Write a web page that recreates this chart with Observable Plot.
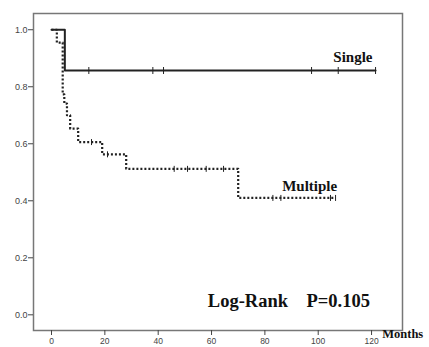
<!DOCTYPE html>
<html>
<head>
<meta charset="utf-8">
<script src="https://cdn.jsdelivr.net/npm/d3@7"></script>
<script src="https://cdn.jsdelivr.net/npm/@observablehq/plot@0.6"></script>
<style>
  html, body { margin: 0; padding: 0; background: #fff; }
  svg { display: block; }
</style>
</head>
<body>
<div id="chart"></div>
<script>
// Kaplan–Meier step data (months, survival proportion)
const singleTimes = [0, 5, 121.5];
const singleSurv  = [1, 0.857, 0.857];
const singleCensorTimes = [14, 38, 42, 97.5, 107.5, 121.5];
const singleCensorSurv  = [0.857, 0.857, 0.857, 0.857, 0.857, 0.857];

const multipleTimes = [0, 2, 4.2, 4.8, 5.8, 7, 10, 19, 28, 70, 106.5];
const multipleSurv  = [1, 0.955, 0.773, 0.741, 0.70, 0.653, 0.606, 0.563, 0.512, 0.41, 0.41];
const multipleCensorTimes = [15, 21, 46, 51, 58, 64.5, 83, 86, 104.6, 106.5];
const multipleCensorSurv  = [0.606, 0.563, 0.512, 0.512, 0.512, 0.512, 0.41, 0.41, 0.41, 0.41];

const xTicks = [0, 20, 40, 60, 80, 100, 120];
const yTicks = [0, 0.2, 0.4, 0.6, 0.8, 1.0];

const single = singleTimes.map((t, i) => ({t, s: singleSurv[i]}));
const multiple = multipleTimes.map((t, i) => ({t, s: multipleSurv[i]}));
const singleCensor = singleCensorTimes.map((t, i) => ({t, s: singleCensorSurv[i]}));
const multipleCensor = multipleCensorTimes.map((t, i) => ({t, s: multipleCensorSurv[i]}));

const vtick = {
  draw(ctx, size) {
    const r = Math.sqrt(size / Math.PI);
    ctx.moveTo(0, -r);
    ctx.lineTo(0, r);
  }
};

const serif = "'Liberation Serif', 'DejaVu Serif', serif";
const sans = "'Liberation Sans', Arial, sans-serif";

const chart = Plot.plot({
  width: 429,
  height: 347,
  marginLeft: 33,
  marginRight: 27,
  marginTop: 13,
  marginBottom: 17,
  style: {fontFamily: sans, background: "#fff"},
  x: {domain: [-6.75, 131.6]},
  y: {domain: [-0.055, 1.057]},
  marks: [
    Plot.frame({stroke: "#777", strokeWidth: 1.5}),
    Plot.axisY({ticks: yTicks, tickFormat: d3.format(".1f"), tickSize: 5, tickPadding: 1,
                fontSize: 9, fill: "#444", stroke: "#444", label: null}),
    Plot.axisX({ticks: xTicks, tickSize: 5, tickPadding: 2, fontSize: 8.5,
                fill: "#444", stroke: "#444", label: null}),
    Plot.line(multiple, {x: "t", y: "s", curve: "step-after", stroke: "#222",
                         strokeWidth: 2.2, strokeDasharray: "2 2", strokeLinecap: "butt"}),
    Plot.line(single, {x: "t", y: "s", curve: "step-after", stroke: "#222", strokeWidth: 2}),
    Plot.dot(singleCensor, {x: "t", y: "s", symbol: vtick, r: 3.5, stroke: "#222", strokeWidth: 1}),
    Plot.dot(multipleCensor, {x: "t", y: "s", symbol: vtick, r: 3, stroke: "#222", strokeWidth: 1}),
    Plot.text(["Single"], {x: 113, y: 0.905, text: d => d, fontFamily: serif, fontWeight: "bold",
                           fontSize: 15, fill: "#111"}),
    Plot.text(["Multiple"], {x: 96.8, y: 0.452, text: d => d, fontFamily: serif, fontWeight: "bold",
                             fontSize: 15, fill: "#111"}),
    Plot.text(["Log-Rank\u00a0\u00a0\u00a0\u00a0P=0.105"], {x: 89, y: 0.048, text: d => d, fontFamily: serif,
                             fontWeight: "bold", fontSize: 18.5, fill: "#111"}),
    Plot.text(["Months"], {x: 124, y: -0.066, text: d => d, textAnchor: "start", fontFamily: serif,
                           fontWeight: "bold", fontSize: 12.5, fill: "#111", clip: false})
  ]
});
document.getElementById("chart").appendChild(chart);
</script>
</body>
</html>
